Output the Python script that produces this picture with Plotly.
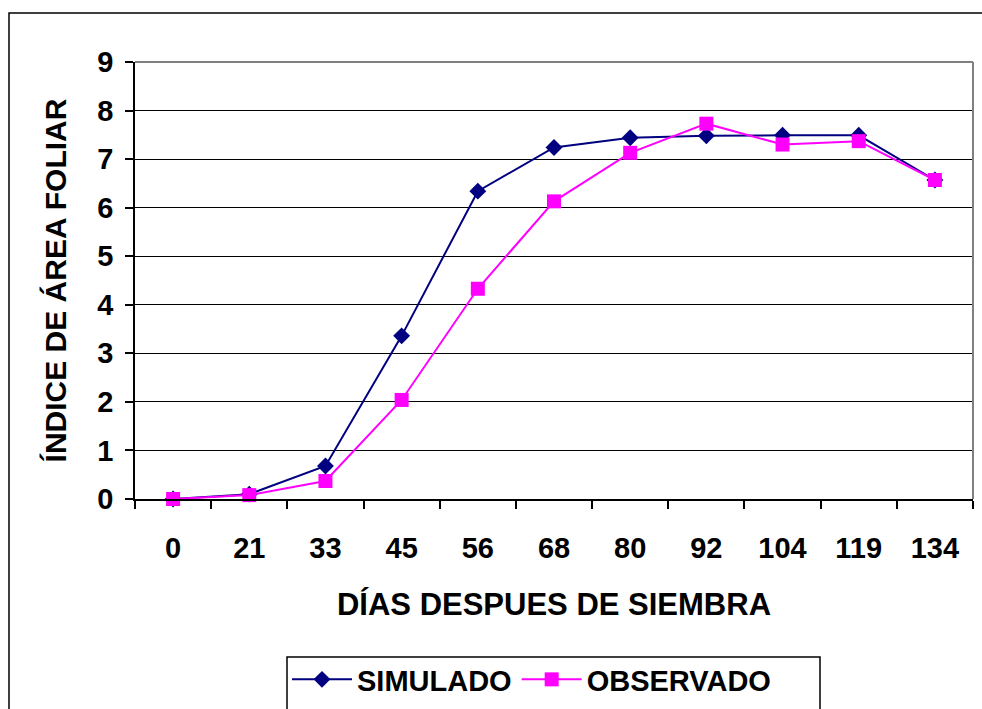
import plotly.graph_objects as go

dias = ["0", "21", "33", "45", "56", "68", "80", "92", "104", "119", "134"]
simulado = [0.0, 0.10, 0.68, 3.36, 6.34, 7.24, 7.44, 7.48, 7.49, 7.49, 6.57]
observado = [0.0, 0.08, 0.37, 2.04, 4.33, 6.13, 7.13, 7.73, 7.30, 7.37, 6.57]

W, H = 982, 709
L, R, T, B = 135, 9, 62, 210
pw, ph = W - L - R, H - T - B

FONT = "Liberation Sans, Arial, sans-serif"

fig = go.Figure()
fig.add_trace(go.Scatter(
    x=dias, y=simulado, name="SIMULADO", mode="lines+markers",
    line=dict(color="#000080", width=2),
    marker=dict(symbol="diamond", size=13, color="#000080"),
    cliponaxis=False,
))
fig.add_trace(go.Scatter(
    x=dias, y=observado, name="OBSERVADO", mode="lines+markers",
    line=dict(color="#FF00FF", width=2),
    marker=dict(symbol="square", size=14, color="#FF00FF"),
    cliponaxis=False,
))

def px_x(x):
    return (x - L) / pw

def px_y(y):
    return (H - B - y) / ph

shapes = [
    # outer chart border
    dict(type="rect", xref="paper", yref="paper",
         x0=px_x(9), x1=px_x(1000), y0=px_y(730), y1=px_y(13),
         line=dict(color="black", width=1.5), fillcolor="rgba(0,0,0,0)", layer="below"),
    # legend box
    dict(type="rect", xref="paper", yref="paper",
         x0=px_x(287), x1=px_x(820), y0=px_y(730), y1=px_y(657),
         line=dict(color="black", width=1.5), fillcolor="white", layer="below"),
    # plot area border (gray) top and right
    dict(type="line", xref="paper", yref="paper", x0=0, x1=1, y0=1, y1=1,
         line=dict(color="#808080", width=2)),
    dict(type="line", xref="paper", yref="paper", x0=1, x1=1, y0=0, y1=1,
         line=dict(color="#808080", width=2)),
]

fig.update_layout(
    width=W, height=H,
    margin=dict(l=L, r=R, t=T, b=B, pad=0, autoexpand=False),
    paper_bgcolor="white", plot_bgcolor="white",
    font=dict(family=FONT, color="black", size=29),
    showlegend=True,
    legend=dict(
        orientation="h", x=px_x(287), y=px_y(654), xanchor="left", yanchor="top",
        borderwidth=0, bgcolor="rgba(0,0,0,0)",
        font=dict(family=FONT, size=29, color="black", weight="bold"),
        itemwidth=60, tracegroupgap=0,
    ),
    xaxis=dict(
        type="category", range=[-0.5, 10.5], automargin=False,
        tickson="boundaries", ticks="outside", ticklen=8, tickcolor="black", tickwidth=1.5,
        showline=True, linecolor="black", linewidth=1.5,
        showgrid=False, zeroline=False,
        tickfont=dict(family=FONT, size=29, color="black", weight="bold"),
        ticklabelstandoff=22,
        title=dict(text="DÍAS DESPUES DE SIEMBRA",
                   font=dict(family=FONT, size=31, color="black", weight="bold"),
                   standoff=31),
    ),
    yaxis=dict(
        range=[0, 9], dtick=1, tick0=0, automargin=False,
        ticks="outside", ticklen=8, tickcolor="black", tickwidth=1.5,
        showline=True, linecolor="black", linewidth=1.5,
        showgrid=True, gridcolor="black", gridwidth=1,
        zeroline=False,
        tickfont=dict(family=FONT, size=29, color="black", weight="bold"),
        ticklabelstandoff=6,
        title=dict(text="ÍNDICE DE ÁREA FOLIAR",
                   font=dict(family=FONT, size=30, color="black", weight="bold"),
                   standoff=22),
    ),
    shapes=shapes,
)

fig.write_html("out.html")
